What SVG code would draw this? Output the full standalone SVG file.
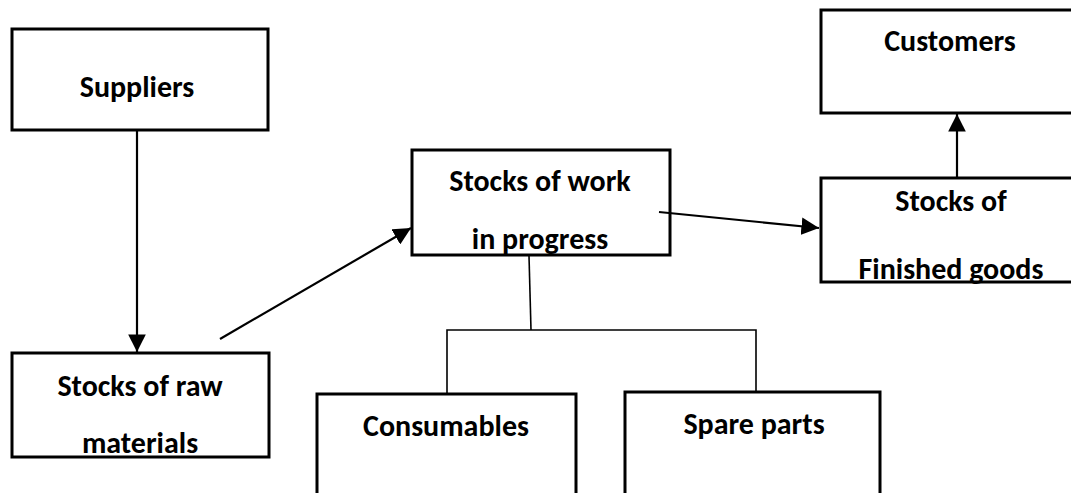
<svg xmlns="http://www.w3.org/2000/svg" width="1071" height="493" viewBox="0 0 1071 493">
<style>
.box{fill:#fff;stroke:#000;stroke-width:3}
.lbl{font-family:Carlito,"Liberation Sans",Arial,sans-serif;font-weight:bold;font-size:30px;fill:#000;text-anchor:middle}
.arr{stroke:#000;stroke-width:2.2;fill:none;marker-end:url(#ah)}
.ln{stroke:#000;stroke-width:1.6;fill:none}
</style>
<defs>
<marker id="ah" viewBox="0 0 10 10" refX="10" refY="5" markerWidth="8" markerHeight="8" markerUnits="strokeWidth" orient="auto">
<path d="M0,0 L10,5 L0,10 Z" fill="#000"/>
</marker>
</defs>
<g id="suppliers">
<rect class="box" x="12" y="29" width="256" height="101"/>
<text class="lbl" x="137" y="97">Suppliers</text>
</g>
<g id="raw">
<rect class="box" x="12" y="353" width="257" height="104"/>
<text class="lbl" x="140" y="396">Stocks of raw</text>
<text class="lbl" x="140" y="453">materials</text>
</g>
<g id="wip">
<rect class="box" x="412" y="150" width="258" height="105"/>
<text class="lbl" x="540" y="191">Stocks of work</text>
<text class="lbl" x="540" y="249">in progress</text>
</g>
<g id="finished">
<rect class="box" x="821" y="178" width="254" height="104"/>
<text class="lbl" x="951" y="211">Stocks of</text>
<text class="lbl" x="951" y="279">Finished goods</text>
</g>
<g id="customers">
<rect class="box" x="821" y="10" width="254" height="103"/>
<text class="lbl" x="950" y="51">Customers</text>
</g>
<g id="consumables">
<rect class="box" x="317" y="394" width="259" height="110"/>
<text class="lbl" x="446" y="436">Consumables</text>
</g>
<g id="spare">
<rect class="box" x="625" y="392" width="255" height="112"/>
<text class="lbl" x="754" y="434">Spare parts</text>
</g>
<g id="connectors">
<line class="arr" x1="137" y1="131" x2="137" y2="352"/>
<line class="arr" x1="220" y1="339" x2="411" y2="228"/>
<line class="arr" x1="659" y1="212" x2="819" y2="228"/>
<line class="arr" x1="957" y1="177" x2="957" y2="114"/>
<polyline class="ln" points="529,256 531,330"/>
<polyline class="ln" points="447,393 447,330 756,330 756,391"/>
</g>
</svg>
